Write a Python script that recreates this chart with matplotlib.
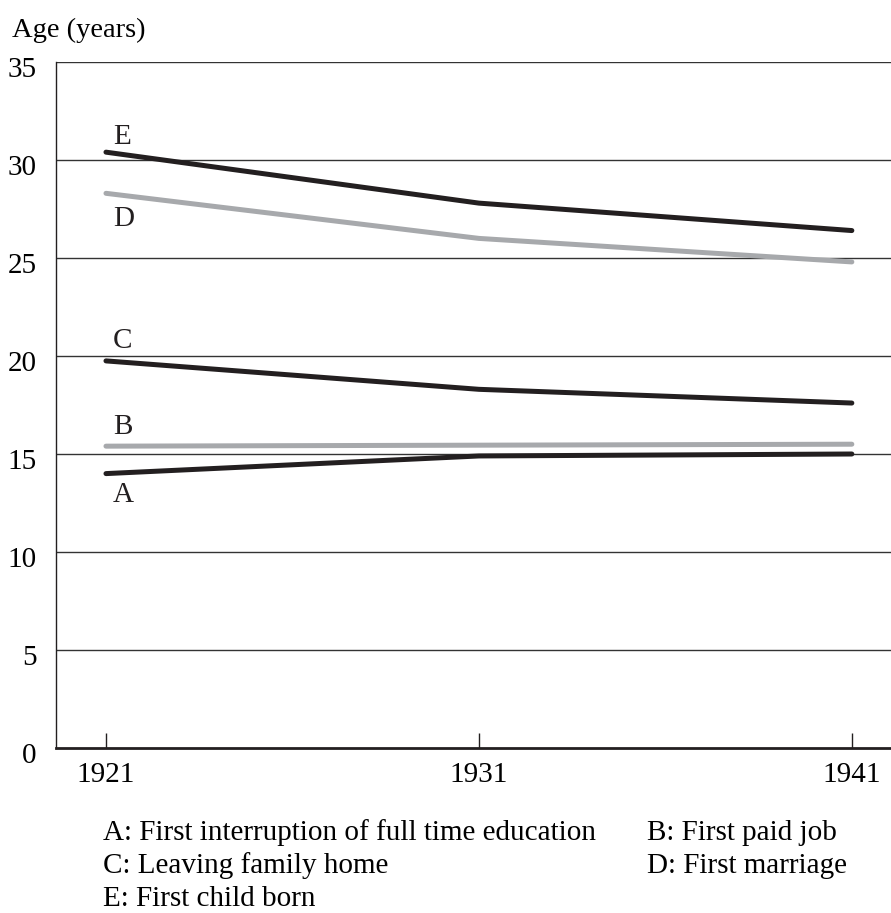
import matplotlib
matplotlib.use('Agg')
import matplotlib.pyplot as plt
from matplotlib.transforms import ScaledTranslation

plt.rcParams['font.family'] = ['Liberation Serif', 'DejaVu Serif']

years = [1921, 1931, 1941]
a_vals = [14.0, 14.9, 15.0]
b_vals = [15.4, 15.45, 15.5]
c_vals = [19.75, 18.3, 17.6]
d_vals = [28.3, 26.0, 24.8]
e_vals = [30.4, 27.8, 26.4]
y_ticks = [0, 5, 10, 15, 20, 25, 30, 35]
legend_items = ["A: First interruption of full time education", "B: First paid job",
                "C: Leaving family home", "D: First marriage",
                "E: First child born"]

black = '#231f20'
grey = '#a7a9ac'

fig = plt.figure(figsize=(8.91, 9.13), dpi=100)
ax = fig.add_axes([56/891, 165/913, 835/891, 686/913])

for y in y_ticks[1:]:
    ax.axhline(y, color='#333333', lw=1.0, zorder=1)

# label offsets (pixels, baseline relative to line start)
series = [
    ('A', a_vals, black, -28),
    ('B', b_vals, grey, 12),
    ('C', c_vals, black, 13),
    ('D', d_vals, grey, -33),
    ('E', e_vals, black, 8),
]
for name, vals, col, dy in series:
    ax.plot(years, vals, color=col, lw=3.6, solid_capstyle='round', zorder=3)
    ax.annotate(name, xy=(years[0], vals[0]), xytext=(7, dy),
                textcoords='offset pixels', ha='left', va='baseline',
                fontsize=21, color=black)

ax.set_xlim(1919.66, 1942.05)
ax.set_ylim(0, 35)
ax.set_xticks(years)
ax.set_xticklabels([str(y) for y in years])
ax.set_yticks(y_ticks)
ax.tick_params(axis='x', direction='in', length=11, width=1, color=black,
               labelsize=21, pad=10)
ax.tick_params(axis='y', length=0, labelsize=21, pad=14)
ax.spines['top'].set_visible(False)
ax.spines['right'].set_visible(False)
ax.spines['left'].set_linewidth(1.0)
ax.spines['left'].set_color(black)
ax.spines['bottom'].set_linewidth(2.0)
ax.spines['bottom'].set_color(black)
shift = ScaledTranslation(0, -5/100, fig.dpi_scale_trans)
for lab in ax.get_yticklabels():
    lab.set_transform(lab.get_transform() + shift)

fig.text(12/891, 1 - 37/913, "Age (years)", fontsize=20.5, ha='left', va='baseline')

pos = [(103, 840), (647, 840), (103, 873), (647, 873), (103, 906)]
for txt, (px, py) in zip(legend_items, pos):
    fig.text(px/891, 1 - py/913, txt, fontsize=21, ha='left', va='baseline')

fig.savefig('out.png', dpi=100)
